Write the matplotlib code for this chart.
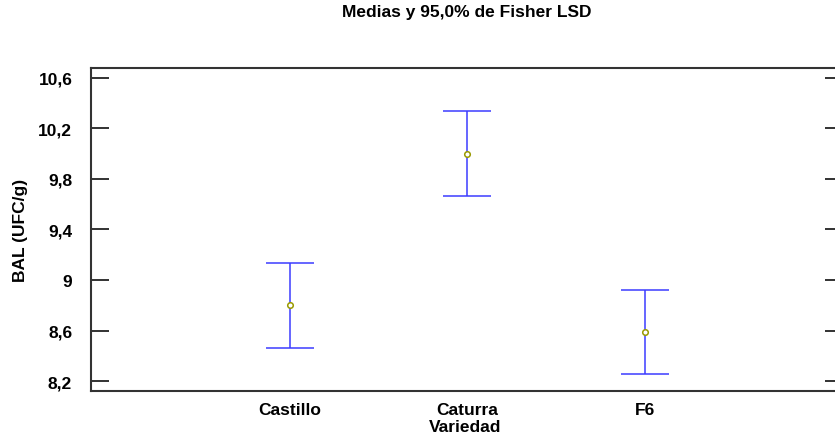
import matplotlib
matplotlib.use("Agg")
import matplotlib.pyplot as plt
import numpy as np

categories = ["Castillo", "Caturra", "F6"]
means = [8.80, 10.00, 8.59]
lower = [8.466, 9.665, 8.258]
upper = [9.135, 10.334, 8.924]
yticks = [8.2, 8.6, 9.0, 9.4, 9.8, 10.2, 10.6]
ytick_labels = ["8,2", "8,6", "9", "9,4", "9,8", "10,2", "10,6"]

plt.rcParams['font.family'] = ['Liberation Sans', 'DejaVu Sans']
plt.rcParams['font.weight'] = 'bold'

fig = plt.figure(figsize=(8.35, 4.39), dpi=100)
L, R, T, B = 91, 843, 69, 392
ax = fig.add_axes([L/835, (439-B)/439, (R-L)/835, (B-T)/439])

x = np.arange(1, len(categories) + 1)
m = np.array(means)
yerr = np.vstack([m - np.array(lower), np.array(upper) - m])
ax.errorbar(x, m, yerr=yerr, fmt='none', ecolor='#3c3cff', elinewidth=1.1,
            capsize=17.5, capthick=1.1)
ax.plot(x, m, linestyle='none', marker='o', markersize=4,
        markerfacecolor='white', markeredgecolor='#999900', markeredgewidth=1.1)

unit = 177.5
ax.set_xlim(1 - (290 - L)/unit, 3 + (R - 645)/unit)
ax.set_ylim(8.123, 10.677)
ax.set_xticks(x)
ax.set_xticklabels(categories, fontsize=12.5, fontweight='bold')
ax.set_yticks(yticks)
ax.set_yticklabels(ytick_labels, fontsize=12.5, fontweight='bold')
ax.tick_params(axis='x', length=0, pad=8)
ax.tick_params(axis='y', direction='in', length=13, width=1.3, color='#222222',
               right=True, pad=13.5)
for s in ax.spines.values():
    s.set_linewidth(1.5)
    s.set_color('#333333')
ax.spines['right'].set_visible(False)

ax.set_xlabel("Variedad", fontsize=12.5, fontweight='bold')
ax.xaxis.set_label_coords(0.5 - 0.002, -(428 - B)/(B-T), transform=ax.transAxes)
ax.xaxis.label.set_va('center')
ax.set_ylabel("BAL (UFC/g)", fontsize=12.5, fontweight='bold')
ax.yaxis.set_label_coords(-(L - 21)/(R-L), 0.5)
ax.yaxis.label.set_va('center')
fig.text(467/835, 1 - 13/439, "Medias y 95,0% de Fisher LSD",
         ha='center', va='center', fontsize=12.5, fontweight='bold')

fig.savefig("out.png", dpi=100)
